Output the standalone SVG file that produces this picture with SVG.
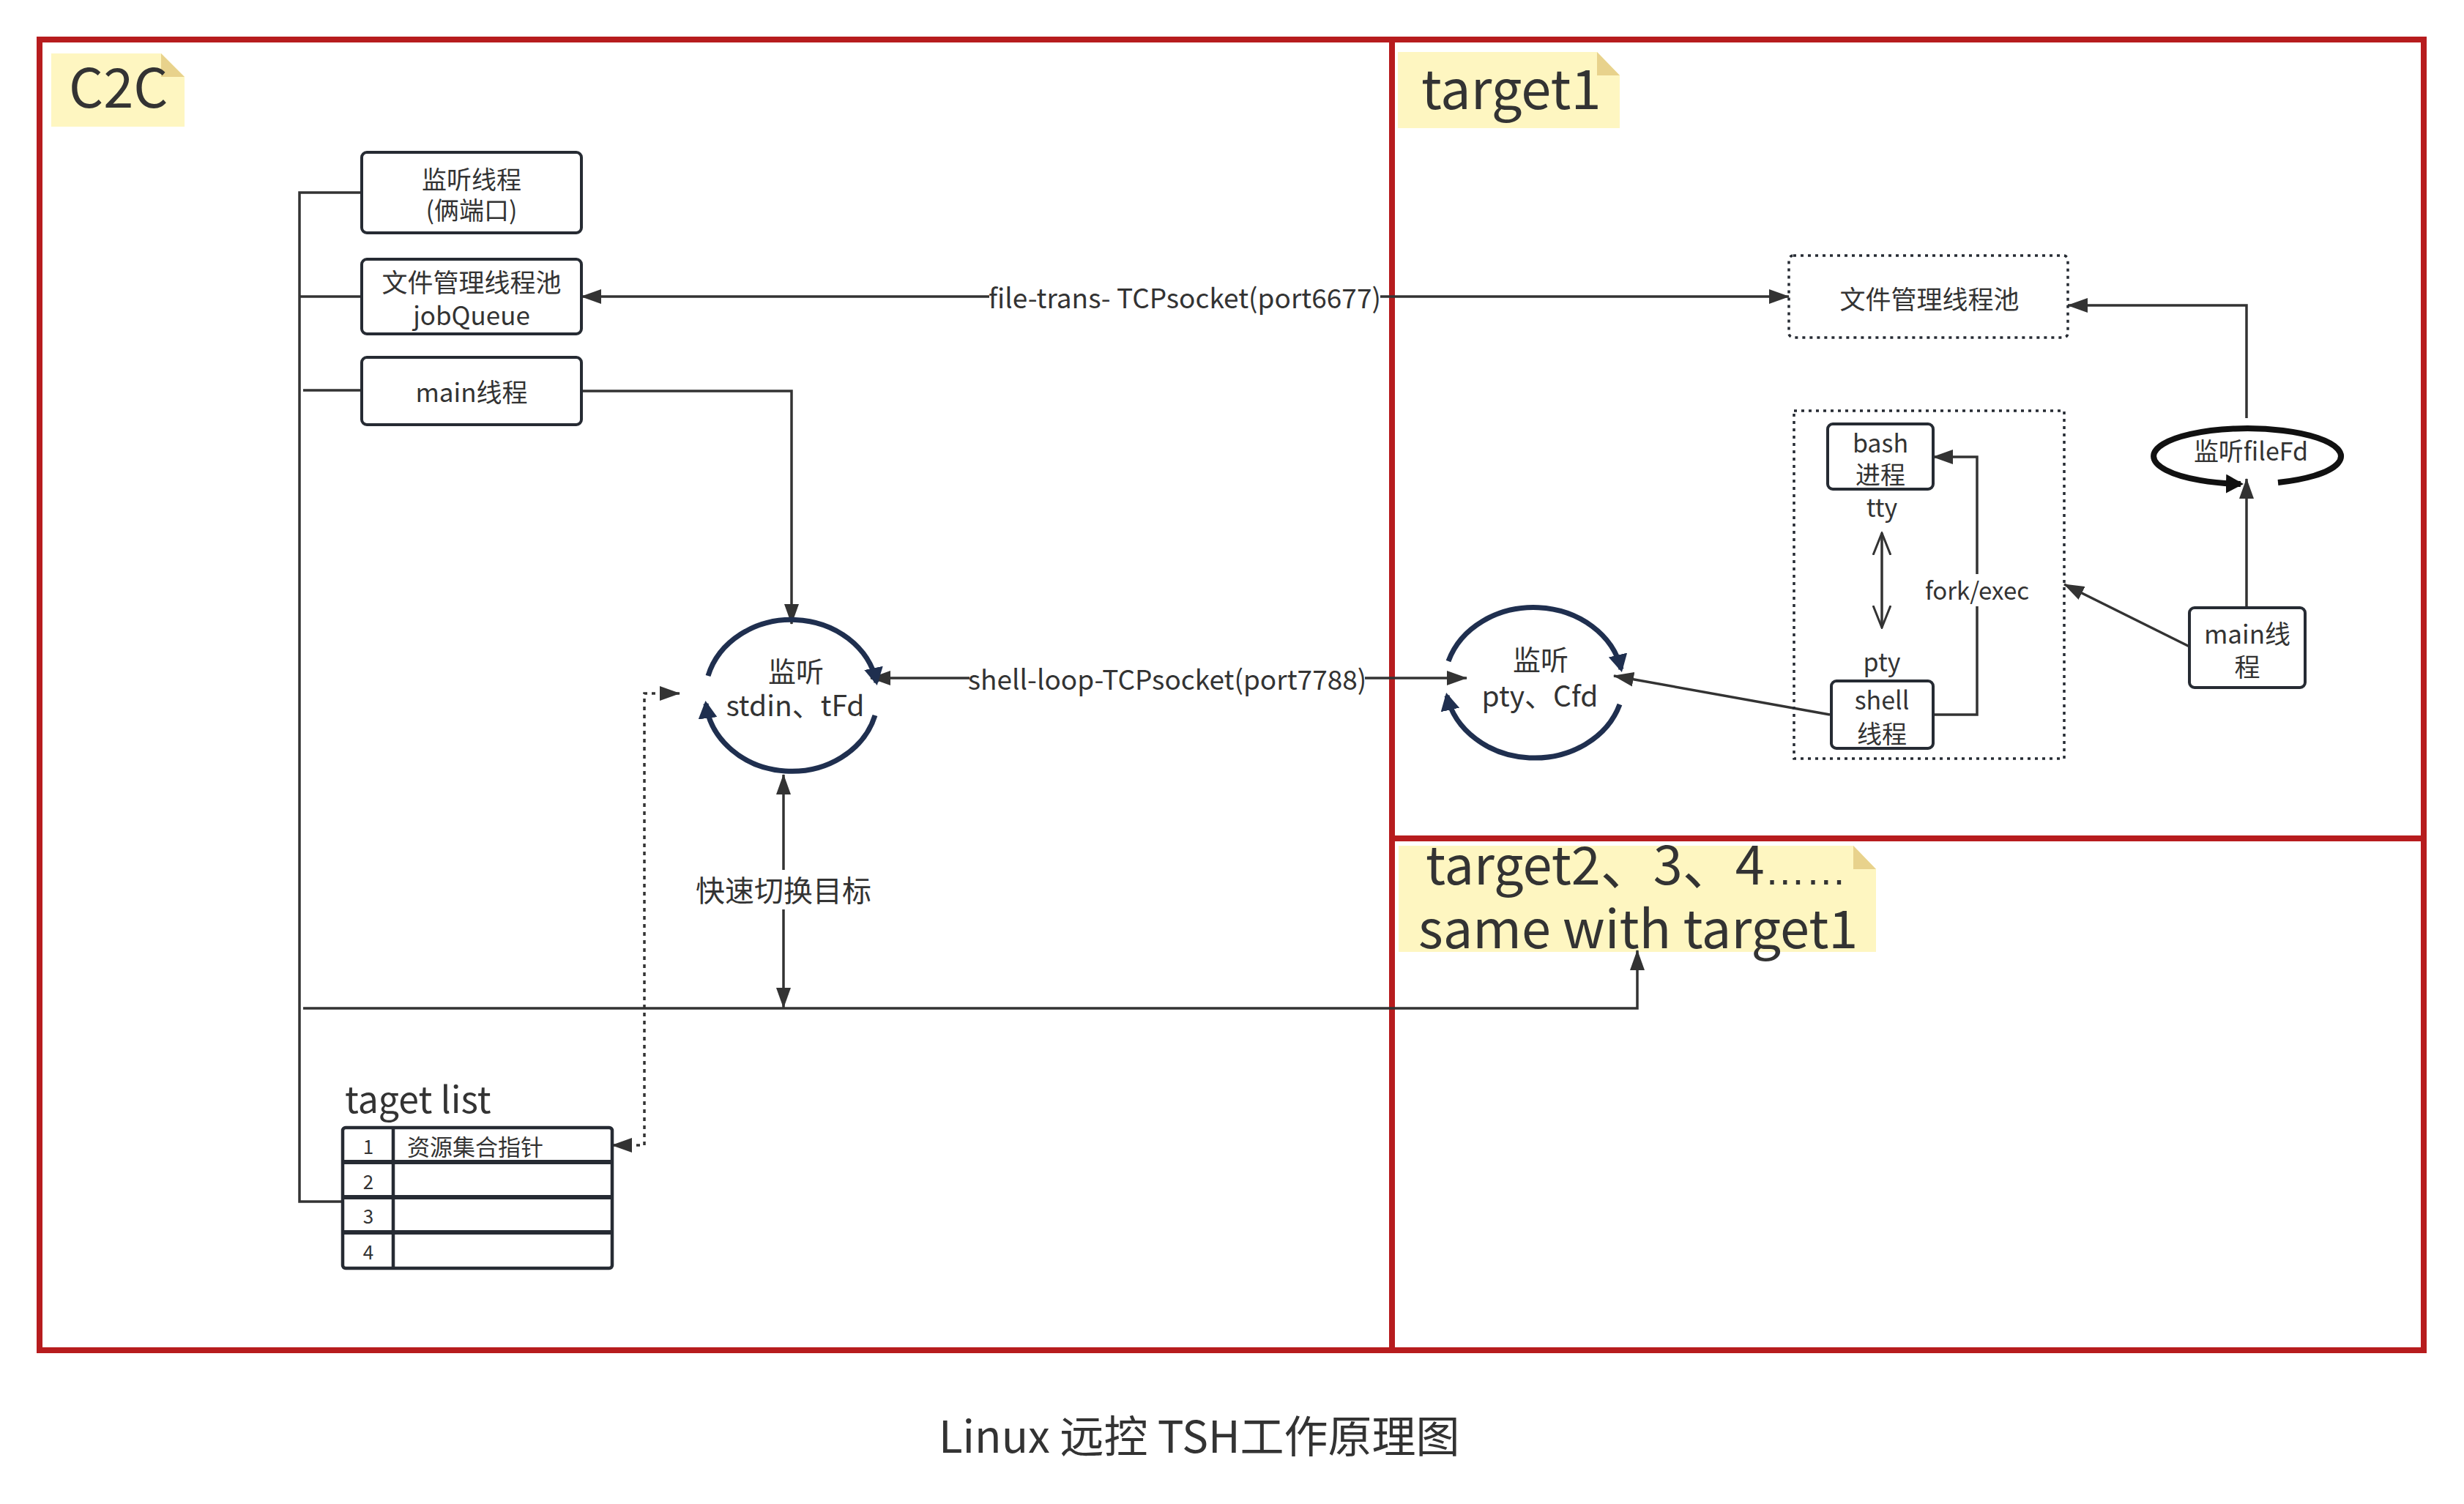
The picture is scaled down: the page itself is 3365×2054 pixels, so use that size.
<svg xmlns="http://www.w3.org/2000/svg" width="3365" height="2054" viewBox="0 0 3365 2054">
<style>
text{font-family:"Noto Sans CJK SC","Noto Sans",sans-serif;fill:#333333}
.frame{fill:none;stroke:#b71c1e;stroke-width:8}
.box{fill:#ffffff;stroke:#262b33;stroke-width:4}
.dbox{fill:none;stroke:#262b33;stroke-width:3.5;stroke-dasharray:4 6}
.note{fill:#fef6c1}
.fold{fill:#e8d28c}
.ln{fill:none;stroke:#333333;stroke-width:3.5}
.dot{fill:none;stroke:#333333;stroke-width:3.5;stroke-dasharray:5 6}
.loop{fill:none;stroke:#1f2f4f;stroke-width:7}
.ring{fill:none;stroke:#111111;stroke-width:8}
.c{text-anchor:middle;dominant-baseline:central}
.bg{fill:#ffffff}
.lat{font-family:"Liberation Sans",sans-serif}
</style>
<defs>
<marker id="ah" markerUnits="userSpaceOnUse" markerWidth="28" markerHeight="20" viewBox="0 0 28 20" refX="27" refY="10" orient="auto-start-reverse"><path d="M0,0 L28,10 L0,20 z" fill="#333333"/></marker>
<marker id="oh" markerUnits="userSpaceOnUse" markerWidth="32" markerHeight="26" viewBox="0 0 32 26" refX="30" refY="13" orient="auto-start-reverse"><path d="M0,1 L30,13 L0,25" fill="none" stroke="#333333" stroke-width="3"/></marker>
<marker id="nh" markerUnits="userSpaceOnUse" markerWidth="26" markerHeight="26" viewBox="0 0 26 26" refX="20" refY="13" orient="auto"><path d="M0,0 L24,13 L0,26 z" fill="#1f2f4f"/></marker>
<marker id="bh" markerUnits="userSpaceOnUse" markerWidth="26" markerHeight="26" viewBox="0 0 26 26" refX="20" refY="13" orient="auto"><path d="M0,0 L24,13 L0,26 z" fill="#111111"/></marker>
</defs>
<rect width="3365" height="2054" fill="#ffffff"/>

<g id="frames">
<rect class="frame" x="54" y="54" width="3256" height="1790"/>
<line class="frame" x1="1901" y1="54" x2="1901" y2="1844"/>
<line class="frame" x1="1901" y1="1145" x2="3310" y2="1145"/>
</g>

<g id="note-c2c">
<path class="note" d="M70,73 H220 L252,105 V173 H70 z"/>
<path class="fold" d="M220,73 L252,105 H220 z"/>
<text x="94" y="147" font-size="74">C2C</text>
</g>
<g id="note-target1">
<path class="note" d="M1909,71 H2181 L2212,103 V175 H1909 z"/>
<path class="fold" d="M2181,71 L2212,103 H2181 z"/>
<text x="1941" y="149" font-size="74">target1</text>
</g>
<g id="note-target2">
<path class="note" d="M1910,1155 H2531 L2562,1187 V1300 H1910 z"/>
<path class="fold" d="M2531,1155 L2562,1187 H2531 z"/>
<text x="1947" y="1208" font-size="72">target2、3、4<tspan class="lat" font-size="56">……</tspan></text>
<text x="1937" y="1295" font-size="72">same with target1</text>
</g>

<g id="connectors">
<path class="ln" d="M494,263 H409 V1641 H468"/>
<path class="ln" d="M409,405 H494"/>
<path class="ln" d="M414,533 H494"/>
<path class="ln" d="M794,534 H1081 V852" marker-end="url(#ah)"/>
<path class="ln" d="M414,1377 H2236 V1298" marker-end="url(#ah)"/>
<path class="ln" d="M1070,1058 V1376" marker-start="url(#ah)" marker-end="url(#ah)"/>
<path class="dot" d="M836,1564 H880 V947 H928" marker-start="url(#ah)" marker-end="url(#ah)"/>
<path class="ln" d="M794,405 H2443" marker-start="url(#ah)" marker-end="url(#ah)"/>
<path class="ln" d="M1189,926 H2003" marker-start="url(#ah)" marker-end="url(#ah)"/>
<path class="ln" d="M3068,571 V417 H2824" marker-end="url(#ah)"/>
<path class="ln" d="M3068,830 V654" marker-end="url(#ah)"/>
<path class="ln" d="M2990,883 L2819,798" marker-end="url(#ah)"/>
<path class="ln" d="M2640,976 H2700 V624 H2640" marker-end="url(#ah)"/>
<path class="ln" d="M2499,976 L2204,923" marker-end="url(#ah)"/>
<path class="ln" d="M2570,728 V857" marker-start="url(#oh)" marker-end="url(#oh)"/>
<rect class="bg" x="1351" y="383" width="534" height="44"/>
<text class="c" x="1618" y="405" font-size="37">file-trans- TCPsocket(port6677)</text>
<rect class="bg" x="1324" y="903" width="540" height="44"/>
<text class="c" x="1594" y="926" font-size="37">shell-loop-TCPsocket(port7788)</text>
<rect class="bg" x="940" y="1188" width="260" height="54"/>
<text class="c" x="1070" y="1214" font-size="40">快速切换目标</text>
<rect class="bg" x="2628" y="784" width="144" height="44"/>
<text class="c" x="2700" y="805" font-size="33">fork/exec</text>
</g>

<g id="c2c-listen-thread">
<rect class="box" x="494" y="208" width="300" height="110" rx="7"/>
<text class="c" x="644" y="243" font-size="34">监听线程</text>
<text class="c" x="644" y="285" font-size="34">(俩端口)</text>
</g>
<g id="c2c-file-pool">
<rect class="box" x="494" y="354" width="300" height="102" rx="7"/>
<text class="c" x="644" y="383" font-size="35">文件管理线程池</text>
<text class="c" x="644" y="428" font-size="35">jobQueue</text>
</g>
<g id="c2c-main">
<rect class="box" x="494" y="488" width="300" height="92" rx="7"/>
<text class="c" x="644" y="533" font-size="35">main线程</text>
</g>

<g id="c2c-loop">
<path class="loop" d="M967,923 A118 104 0 0 1 1197,932" marker-end="url(#nh)"/>
<path class="loop" d="M1195,977 A118 104 0 0 1 964,961" marker-end="url(#nh)"/>
<text class="c" x="1087" y="914" font-size="38">监听</text>
<text class="c" x="1086" y="961" font-size="39">stdin、tFd</text>
</g>

<g id="target-list">
<text x="471" y="1520" font-size="50">taget list</text>
<rect x="468" y="1540" width="368" height="192" rx="4" fill="#ffffff" stroke="#262b33" stroke-width="4.5"/>
<line x1="468" y1="1587" x2="836" y2="1587" stroke="#262b33" stroke-width="6"/>
<line x1="468" y1="1635" x2="836" y2="1635" stroke="#262b33" stroke-width="6"/>
<line x1="468" y1="1683" x2="836" y2="1683" stroke="#262b33" stroke-width="6"/>
<line x1="537" y1="1540" x2="537" y2="1732" stroke="#262b33" stroke-width="4.5"/>
<text class="c" x="503" y="1564" font-size="26">1</text>
<text class="c" x="503" y="1612" font-size="26">2</text>
<text class="c" x="503" y="1659" font-size="26">3</text>
<text class="c" x="503" y="1708" font-size="26">4</text>
<text x="556" y="1564" font-size="31" dominant-baseline="central">资源集合指针</text>
</g>

<g id="t1-file-pool">
<rect class="dbox" x="2443" y="349" width="381" height="112" rx="6"/>
<text class="c" x="2635" y="406" font-size="35">文件管理线程池</text>
</g>
<g id="t1-group">
<rect class="dbox" x="2450" y="561" width="369" height="475"/>
</g>
<g id="t1-bash">
<rect class="box" x="2496" y="579" width="144" height="89" rx="7"/>
<text class="c" x="2568" y="603" font-size="34">bash</text>
<text class="c" x="2568" y="646" font-size="34">进程</text>
<text class="c" x="2570" y="691" font-size="34">tty</text>
</g>
<g id="t1-pty">
<text class="c" x="2570" y="902" font-size="34">pty</text>
</g>
<g id="t1-shell">
<rect class="box" x="2501" y="930" width="139" height="92" rx="7"/>
<text class="c" x="2570" y="954" font-size="34">shell</text>
<text class="c" x="2570" y="1000" font-size="34">线程</text>
</g>
<g id="t1-loop">
<path class="loop" d="M1978,903 A122 105 0 0 1 2214,914" marker-end="url(#nh)"/>
<path class="loop" d="M2212,962 A122 105 0 0 1 1976,950" marker-end="url(#nh)"/>
<text class="c" x="2104" y="898" font-size="38">监听</text>
<text class="c" x="2103" y="948" font-size="39">pty、Cfd</text>
</g>
<g id="t1-filefd">
<path class="ring" d="M3111,659 A128 38 0 1 0 3060,661" marker-end="url(#bh)"/>
<text class="c" x="3074" y="614" font-size="34">监听fileFd</text>
</g>
<g id="t1-main">
<rect class="box" x="2990" y="830" width="158" height="109" rx="7"/>
<text class="c" x="3069" y="863" font-size="35">main线</text>
<text class="c" x="3069" y="908" font-size="35">程</text>
</g>

<g id="caption">
<text x="1282" y="1984" font-size="60">Linux 远控 TSH工作原理图</text>
</g>
</svg>
